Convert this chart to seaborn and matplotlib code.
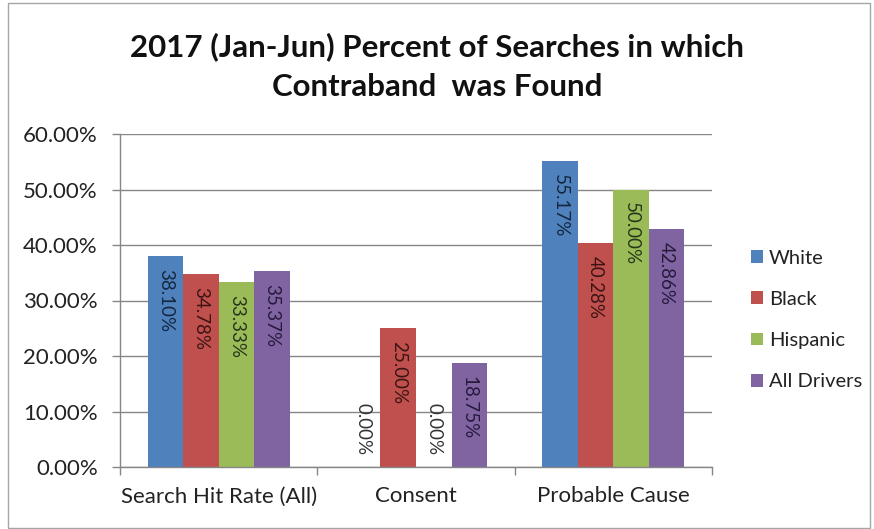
import matplotlib
matplotlib.use("Agg")
import matplotlib.pyplot as plt
from matplotlib.patches import Rectangle
from matplotlib.ticker import FuncFormatter, FixedLocator
import pandas as pd
import seaborn as sns

# Search categories and driver groups
categories = ["Search Hit Rate (All)", "Consent", "Probable Cause"]
groups = ["White", "Black", "Hispanic", "All Drivers"]

# Percent of searches that found contraband, per group
white = [38.10, 0.00, 55.17]
black = [34.78, 25.00, 40.28]
hispanic = [33.33, 0.00, 50.00]
all_drivers = [35.37, 18.75, 42.86]

colors = ["#4F81BD", "#C0504D", "#9BBB59", "#8064A2"]
label_colors = ["#14273F", "#3A1414", "#25361A", "#261A3C"]

rows = []
for grp, vals in zip(groups, [white, black, hispanic, all_drivers]):
    for cat, v in zip(categories, vals):
        rows.append({"Category": cat, "Group": grp, "Percent": v})
df = pd.DataFrame(rows)

sns.set_style("white")
plt.rcParams["font.family"] = ["Lato", "DejaVu Sans"]

fig = plt.figure(figsize=(8.74, 5.29), dpi=100)
ax = fig.add_axes([120 / 874, 1 - 467 / 529, (712 - 120) / 874, (467 - 134) / 529])

sns.barplot(data=df, x="Category", y="Percent", hue="Group",
            order=categories, hue_order=groups, palette=colors,
            width=0.72, gap=0, errorbar=None, saturation=1,
            linewidth=0, ax=ax)

ax.set_ylim(0, 60)
ax.set_xlim(-0.5, 2.5)
ax.set_yticks(range(0, 61, 10))
ax.yaxis.set_major_formatter(FuncFormatter(lambda v, p: f"{v:.2f}%"))
ax.set_xlabel("")
ax.set_ylabel("")

# Category separators as major ticks, names on minor ticks
ax.xaxis.set_major_locator(FixedLocator([-0.5, 0.5, 1.5, 2.5]))
ax.set_xticklabels([])
ax.xaxis.set_minor_locator(FixedLocator([0, 1, 2]))
ax.set_xticklabels(categories, minor=True)
ax.tick_params(axis="x", which="major", length=6, width=1, color="#868686",
               direction="out", bottom=True)
ax.tick_params(axis="x", which="minor", length=0, pad=14, labelsize=16,
               labelcolor="#222222")
ax.tick_params(axis="y", length=6, width=1, color="#868686", direction="out",
               pad=10, labelsize=16, labelcolor="#222222", left=True)

ax.grid(axis="y", color="#868686", linewidth=1)
ax.set_axisbelow(True)
for side in ["top", "right"]:
    ax.spines[side].set_visible(False)
for side in ["left", "bottom"]:
    ax.spines[side].set_color("#868686")
    ax.spines[side].set_linewidth(1)

# Rotated value labels at the inside end of each bar
for container, lc in zip(ax.containers, label_colors):
    for bar, val in zip(container, container.datavalues):
        x = bar.get_x() + bar.get_width() / 2
        if val > 0:
            ax.annotate(f"{val:.2f}%", (x, val), xytext=(0, -13),
                        textcoords="offset pixels", rotation=-90,
                        ha="center", va="top", fontsize=13.5, color=lc)
        else:
            ax.annotate(f"{val:.2f}%", (x, val), xytext=(0, 12),
                        textcoords="offset pixels", rotation=-90,
                        ha="center", va="bottom", fontsize=13.5, color="#333333")

leg = ax.legend(loc="center left", bbox_to_anchor=(751 / 874, 1 - 320 / 529),
                bbox_transform=fig.transFigure, frameon=False, fontsize=14.5,
                handlelength=0.6, handleheight=0.6, handletextpad=0.3,
                labelspacing=1.2, borderpad=0, borderaxespad=0)
for t in leg.get_texts():
    t.set_color("#222222")

fig.text(0.5, 1 - 47 / 529, "2017 (Jan-Jun) Percent of Searches in which",
         ha="center", va="center", fontsize=22.5, fontweight="bold", color="#111111")
fig.text(0.5, 1 - 87 / 529, "Contraband  was Found",
         ha="center", va="center", fontsize=22.5, fontweight="bold", color="#111111")

fig.patches.append(Rectangle((8 / 874, 1 / 529), 862 / 874, 525 / 529,
                             transform=fig.transFigure, fill=False,
                             edgecolor="#A6A6A6", linewidth=1))

fig.savefig("out.png", dpi=100)
